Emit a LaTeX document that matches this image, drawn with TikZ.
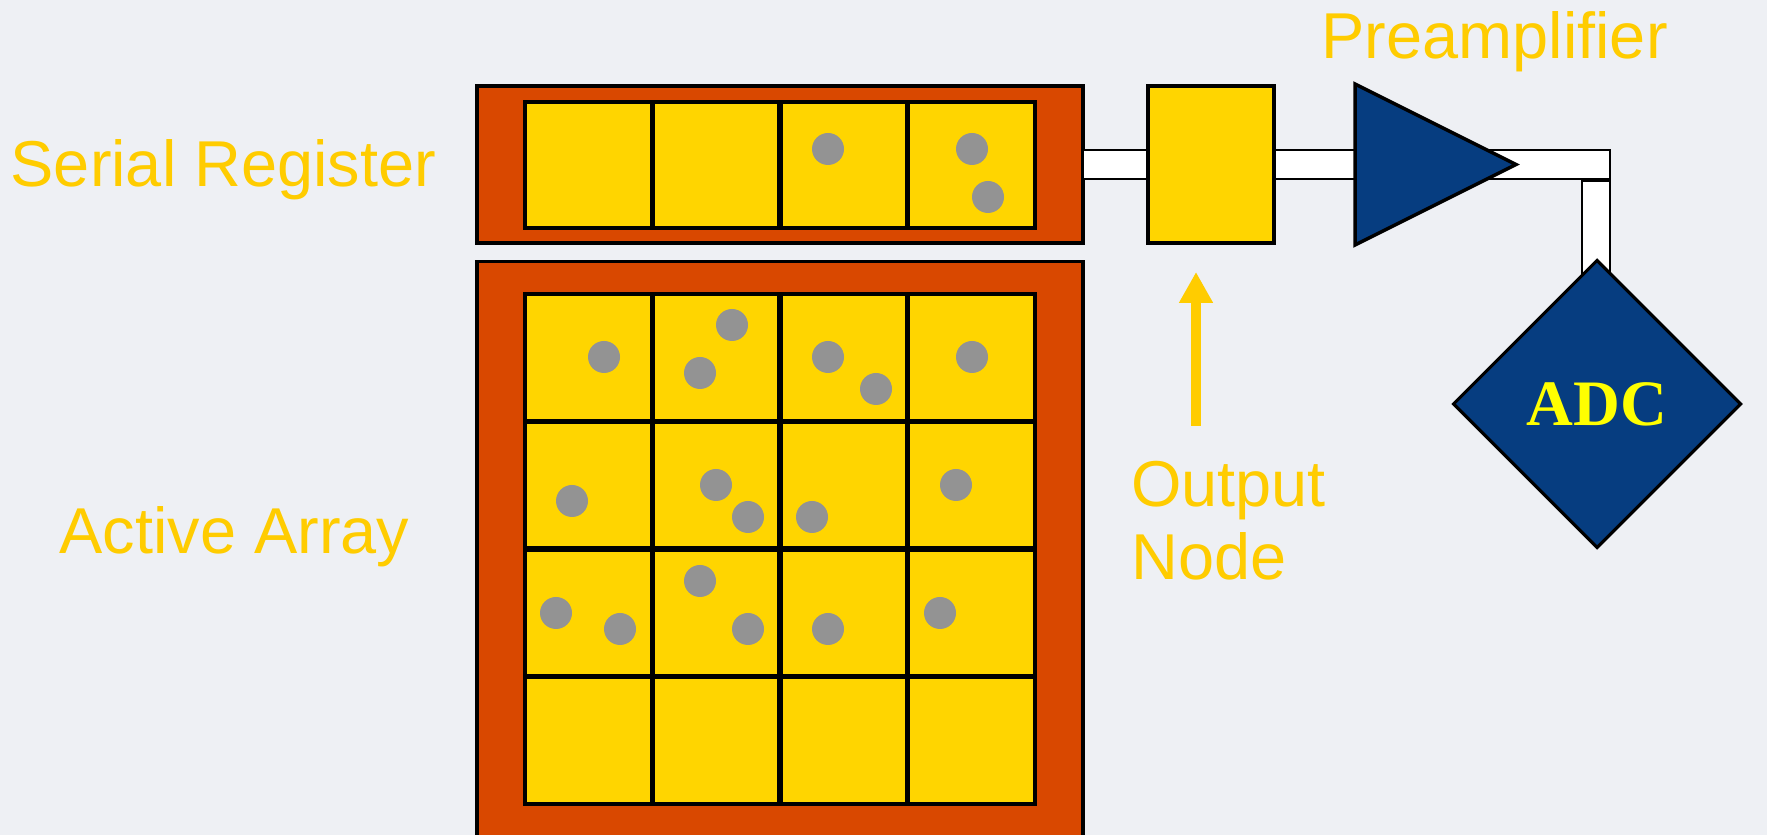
\documentclass[tikz,border=0pt]{standalone}
\usepackage{fontspec}
\setmainfont{Liberation Sans}
\newfontfamily\adcfont{Liberation Serif}
\usetikzlibrary{shapes.geometric,arrows.meta}
\definecolor{bgcol}{RGB}{238,240,244}
\definecolor{ccdorange}{RGB}{217,72,0}
\definecolor{pixyellow}{RGB}{255,213,0}
\definecolor{lblyellow}{RGB}{255,204,0}
\definecolor{chargegray}{RGB}{147,147,147}
\definecolor{ampblue}{RGB}{6,61,128}
\definecolor{adcyellow}{RGB}{255,255,0}
\tikzset{
  lbl/.style={text=lblyellow,font=\fontsize{18.45}{20.8}\selectfont,inner sep=0,anchor=base west},
  chip/.style={draw=black,line width=.9pt,fill=ccdorange,inner sep=0,outer sep=0},
  pix/.style={draw=black,line width=1.1pt,fill=pixyellow},
  gate/.style={line width=1.6pt},
  charge/.style={fill=chargegray},
  wire/.style={draw=black,line width=.8pt,fill=white},
  onode/.style={draw=black,line width=.9pt,fill=pixyellow,minimum width=1.26cm,minimum height=1.57cm,inner sep=0,outer sep=0},
  amp/.style={isosceles triangle,isosceles triangle stretches,draw=black,line width=1pt,fill=ampblue,
    minimum width=1.61cm,minimum height=1.61cm,inner sep=0,outer sep=0,anchor=lower side},
  adcbox/.style={diamond,aspect=1,draw=black,line width=.9pt,fill=ampblue,minimum width=2.87cm,minimum height=2.87cm,
    inner sep=0,outer sep=0,text=adcyellow,font=\adcfont\bfseries\fontsize{18.45}{21}\selectfont},
  outarrow/.style={draw=lblyellow,line width=3pt,-{Triangle[width=3.2mm,length=3.1mm]}}
}
\begin{document}
\begin{tikzpicture}
\clip(0,0)rectangle(17.67,8.35);
\fill[bgcol](0,0)rectangle(17.67,8.35);
%serial register
\node[chip,minimum width=6.06cm,minimum height=1.57cm](sreg)at(7.80,6.705){};
\draw[pix](5.25,6.07)rectangle(10.35,7.33);
\foreach \x in {1,2,3}{
\draw[gate](5.25+1.275*\x,6.07)--(5.25+1.275*\x,7.33);
}
%active array
\node[chip,minimum width=6.06cm,minimum height=6.2cm](arr)at(7.80,2.635){};
\draw[pix](5.25,0.31)rectangle(10.35,5.41);
\foreach \x in {1,2,3}{
\draw[gate](5.25+1.275*\x,0.31)--(5.25+1.275*\x,5.41);
\draw[gate](5.25,0.31+1.275*\x)--(10.35,0.31+1.275*\x);
}
%charges
\foreach \x/\y in {8.28/6.86,9.72/6.86,9.88/6.38,
  6.04/4.78,7.32/5.10,7.00/4.62,8.28/4.78,8.76/4.46,9.72/4.78,
  5.72/3.34,7.16/3.50,7.48/3.18,8.12/3.18,9.56/3.50,
  5.56/2.22,6.20/2.06,7.00/2.54,7.48/2.06,8.28/2.06,9.40/2.22}{
\fill[charge](\x,\y)circle[radius=0.16];
}
%wires
\coordinate(corner)at(16.10,6.56);
\draw[wire]([yshift=-1.45mm]sreg.east)rectangle([yshift=2.9mm]corner);
\draw[wire](15.82,5.0)rectangle([yshift=-0.2mm]corner);
%output chain
\node[onode](onode)at(12.11,6.705){};
\node[amp](amp)at(13.55,6.705){};
\node[adcbox](adc)at(15.97,4.31){ADC};
\coordinate(arrtip)at(11.96,5.63);
\coordinate(arrtail)at(11.96,4.09);
\draw[outarrow](arrtail)--(arrtip);
%labels
\node[lbl](srlbl)at(0.10,6.48){Serial Register};
\node[lbl](arrlbl)at(0.59,2.81){Active Array};
\node[lbl](amplbl)at(13.21,7.765){Preamplifier};
\node[lbl,align=left](onlbl)at(11.305,2.55){Output\\Node};
\end{tikzpicture}
\end{document}
